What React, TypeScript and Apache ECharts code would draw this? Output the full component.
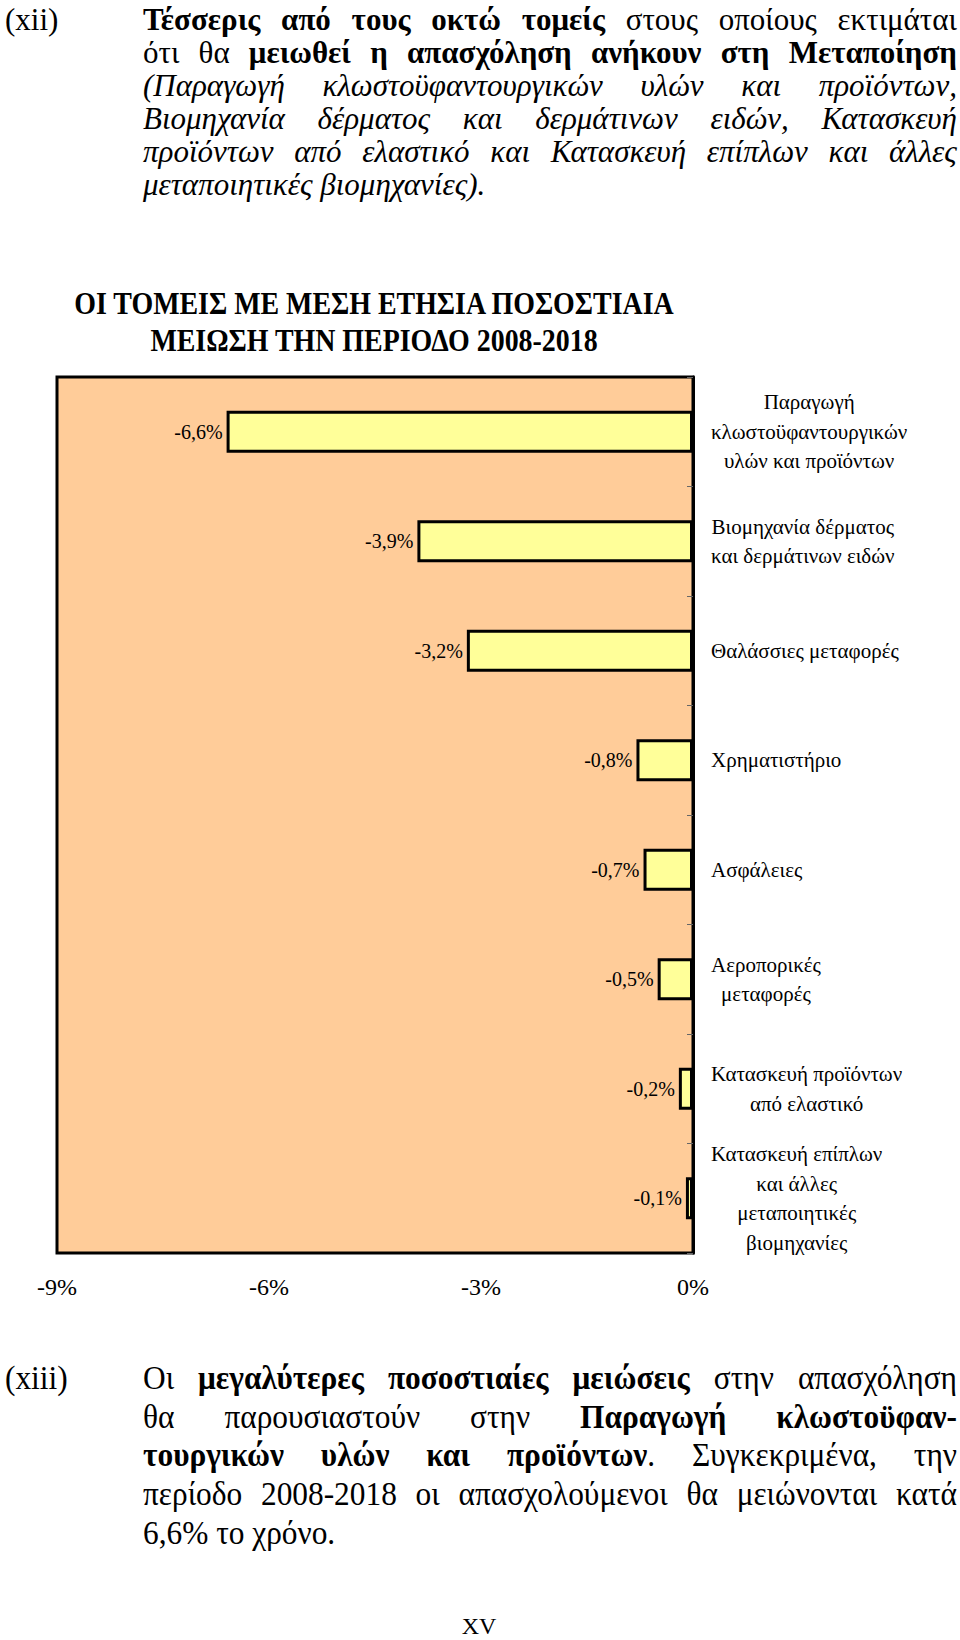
import React, { useEffect, useRef } from "react";
import * as echarts from "echarts";

// ---------- data ----------
const categories = [
  "Παραγωγή\nκλωστοϋφαντουργικών\nυλών και προϊόντων",
  "Βιομηχανία δέρματος\nκαι δερμάτινων ειδών",
  "Θαλάσσιες μεταφορές",
  "Χρηματιστήριο",
  "Ασφάλειες",
  "Αεροπορικές\nμεταφορές",
  "Κατασκευή προϊόντων\nαπό ελαστικό",
  "Κατασκευή επίπλων\nκαι άλλες\nμεταποιητικές\nβιομηχανίες",
];
const values = [-6.6, -3.9, -3.2, -0.8, -0.7, -0.5, -0.2, -0.1];
const xTicks = [-9, -6, -3, 0];
const chartTitle = ["ΟΙ ΤΟΜΕΙΣ ΜΕ ΜΕΣΗ ΕΤΗΣΙΑ ΠΟΣΟΣΤΙΑΙΑ", "ΜΕΙΩΣΗ ΤΗΝ ΠΕΡΙΟΔΟ 2008-2018"];

const para1Label = "(xii)";
const para1Lines = [
  "**Τέσσερις από τους οκτώ τομείς** στους οποίους εκτιμάται",
  "ότι θα **μειωθεί η απασχόληση ανήκουν στη Μεταποίηση**",
  "_(Παραγωγή κλωστοϋφαντουργικών υλών και προϊόντων,_",
  "_Βιομηχανία δέρματος και δερμάτινων ειδών, Κατασκευή_",
  "_προϊόντων από ελαστικό και Κατασκευή επίπλων και άλλες_",
  "_μεταποιητικές βιομηχανίες)._",
];
const para2Label = "(xiii)";
const para2Lines = [
  "Οι **μεγαλύτερες ποσοστιαίες μειώσεις** στην απασχόληση",
  "θα παρουσιαστούν στην **Παραγωγή κλωστοϋφαν-**",
  "**τουργικών υλών και προϊόντων**. Συγκεκριμένα, την",
  "περίοδο 2008-2018 οι απασχολούμενοι θα μειώνονται κατά",
  "6,6% το χρόνο.",
];
const pageNumber = "XV";

// ---------- helpers ----------
const SERIF = "'Liberation Serif', 'Times New Roman', serif";

type Run = { t: string; b: boolean; i: boolean };

function parseLine(src: string): Run[][] {
  const words: Run[][] = [];
  let cur: Run[] = [];
  let b = false;
  let it = false;
  let buf = "";
  const flush = () => {
    if (buf) cur.push({ t: buf, b, i: it });
    buf = "";
  };
  for (let k = 0; k < src.length; k++) {
    const ch = src[k];
    if (ch === "*" && src[k + 1] === "*") {
      flush();
      b = !b;
      k++;
    } else if (ch === "_") {
      flush();
      it = !it;
    } else if (ch === " ") {
      flush();
      if (cur.length) words.push(cur);
      cur = [];
    } else {
      buf += ch;
    }
  }
  flush();
  if (cur.length) words.push(cur);
  return words;
}

function TextLine(props: {
  text: string;
  left: number;
  width: number;
  center: number;
  lh: number;
  fs: number;
  sx: number;
  justify: boolean;
}) {
  const { text, left, width, center, lh, fs, sx, justify } = props;
  const words = parseLine(text);
  return (
    <div
      style={{
        position: "absolute",
        left,
        top: center - lh / 2,
        width: width / sx,
        height: lh,
        lineHeight: lh + "px",
        fontSize: fs,
        fontFamily: SERIF,
        color: "#000",
        display: "flex",
        justifyContent: justify ? "space-between" : "flex-start",
        columnGap: justify ? 0 : "0.25em",
        whiteSpace: "nowrap",
        transform: sx !== 1 ? `scaleX(${sx})` : undefined,
        transformOrigin: "0 50%",
      }}
    >
      {words.map((w, wi) => (
        <span key={wi}>
          {w.map((r, ri) => (
            <span
              key={ri}
              style={{
                fontWeight: r.b ? "bold" : "normal",
                fontStyle: r.i ? "italic" : "normal",
              }}
            >
              {r.t}
            </span>
          ))}
        </span>
      ))}
    </div>
  );
}

export default function App() {
  const ref = useRef<HTMLDivElement | null>(null);

  useEffect(() => {
    if (!ref.current) return;
    const chart = echarts.init(ref.current, null, { renderer: "svg" });
    chart.setOption({
      animation: false,
      grid: {
        left: 57,
        top: 377,
        width: 636,
        height: 876,
        show: true,
        backgroundColor: "#FFCC99",
        borderColor: "#000",
        borderWidth: 3,
        containLabel: false,
      },
      xAxis: {
        type: "value",
        min: xTicks[0],
        max: xTicks[xTicks.length - 1],
        interval: xTicks[1] - xTicks[0],
        axisLine: { show: false },
        axisTick: { show: false },
        splitLine: { show: false },
        axisLabel: {
          formatter: (v: number) => `${v}%`,
          fontFamily: SERIF,
          fontSize: 24,
          color: "#000",
          margin: 22,
        },
      },
      yAxis: {
        type: "category",
        data: categories,
        inverse: true,
        position: "right",
        axisLine: { show: true, lineStyle: { color: "#000", width: 3 } },
        axisTick: { show: true, inside: true, length: 6, lineStyle: { color: "#666", width: 1 } },
        axisLabel: {
          interval: 0,
          margin: 18,
          align: "left",
          formatter: (v: string) =>
            v
              .split("\n")
              .map((s) => `{c|${s}}`)
              .join("\n"),
          rich: {
            c: {
              align: "center",
              fontFamily: SERIF,
              fontSize: 21,
              lineHeight: 29.5,
              color: "#000",
            },
          },
        },
      },
      series: [
        {
          type: "bar",
          data: values,
          barWidth: 42,
          itemStyle: { color: "#FFFF99", borderColor: "#000", borderWidth: 3 },
          label: {
            show: true,
            position: "left",
            distance: 4,
            formatter: (p: any) => Number(p.value).toFixed(1).replace(".", ",") + "%",
            fontFamily: SERIF,
            fontSize: 20,
            color: "#000",
          },
        },
      ],
      graphic: [
        {
          type: "text",
          x: 374,
          y: 321.5,
          scaleX: 0.9,
          style: {
            text: chartTitle.join("\n"),
            align: "center",
            verticalAlign: "middle",
            fontFamily: SERIF,
            fontWeight: "bold",
            fontSize: 31,
            lineHeight: 37,
            fill: "#000",
          },
        },
      ],
    });
    return () => chart.dispose();
  }, []);

  const p1Centers = para1Lines.map((_, i) => 19 + 33 * i);
  const p2Centers = para2Lines.map((_, i) => 1378 + 38.7 * i);
  const p1 = { lh: 33, fs: 31, sx: 1 };
  const p2 = { lh: 38, fs: 33, sx: 0.95 };

  return (
    <div
      style={{
        position: "absolute",
        left: 0,
        top: 0,
        width: 960,
        height: 1640,
        overflow: "hidden",
        background: "#fff",
      }}
    >
      <div ref={ref} style={{ position: "absolute", left: 0, top: 0, width: 960, height: 1640 }} />
      <TextLine text={para1Label} left={5} width={120} center={p1Centers[0]} {...p1} justify={false} />
      {para1Lines.map((t, i) => (
        <TextLine
          key={"a" + i}
          text={t}
          left={143}
          width={814}
          center={p1Centers[i]}
          {...p1}
          justify={i < para1Lines.length - 1}
        />
      ))}
      <TextLine text={para2Label} left={5} width={120} center={p2Centers[0]} {...p2} justify={false} />
      {para2Lines.map((t, i) => (
        <TextLine
          key={"b" + i}
          text={t}
          left={143}
          width={814}
          center={p2Centers[i]}
          {...p2}
          justify={i < para2Lines.length - 1}
        />
      ))}
      <div
        style={{
          position: "absolute",
          left: 479,
          top: 1614,
          height: 24,
          lineHeight: "24px",
          fontFamily: SERIF,
          fontSize: 24,
          color: "#000",
          transform: "translateX(-50%)",
          whiteSpace: "nowrap",
        }}
      >
        {pageNumber}
      </div>
    </div>
  );
}
